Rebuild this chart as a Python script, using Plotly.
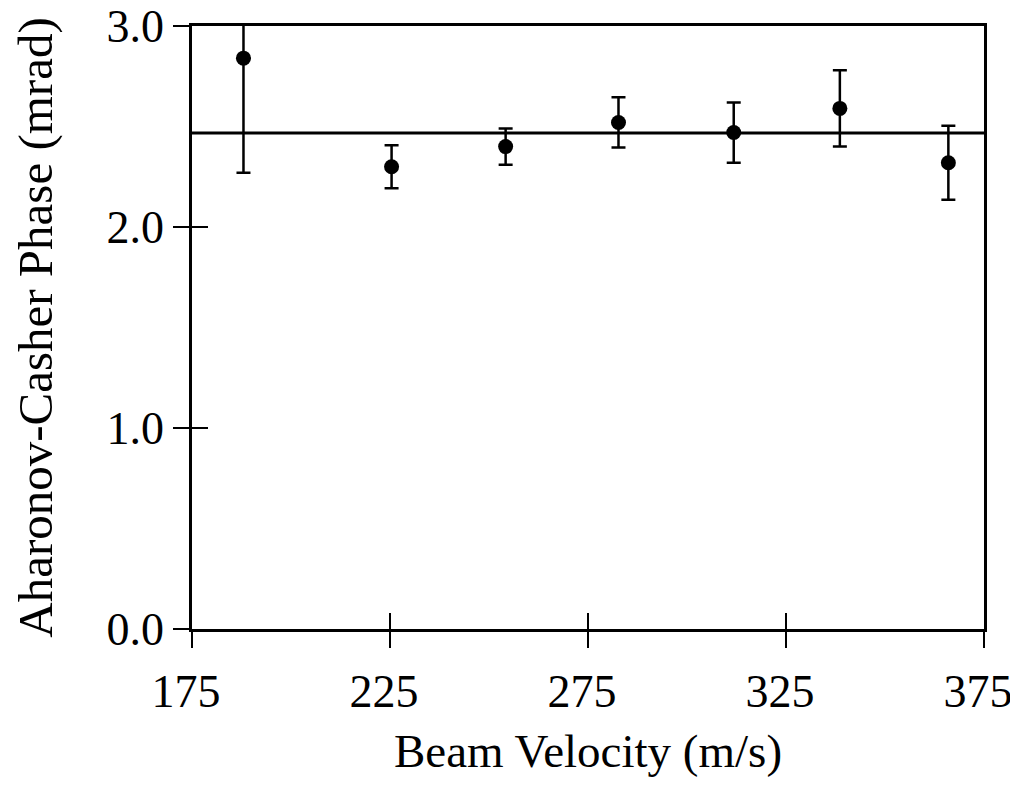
import plotly.graph_objects as go

# ---- data ----
velocity = [188.0, 225.4, 254.2, 282.7, 311.8, 338.6, 366.0]
phase = [2.84, 2.30, 2.40, 2.52, 2.47, 2.59, 2.32]
phase_err = [0.57, 0.107, 0.09, 0.125, 0.15, 0.19, 0.184]
mean_phase = 2.468

x_ticks = [175, 225, 275, 325, 375]
y_ticks = [0.0, 1.0, 2.0, 3.0]
y_tick_labels = ["0.0", "1.0", "2.0", "3.0"]
x_range = [175, 375]
y_range = [0, 3.0]
err_clip_top = 3.03  # top whisker of the first point is cut just above the frame

FONT = "Liberation Serif"
INK = "black"
FS = 46

fig = go.Figure()

# mean-value horizontal line
fig.add_trace(go.Scatter(
    x=x_range, y=[mean_phase, mean_phase], mode="lines",
    line=dict(color=INK, width=3), hoverinfo="skip", showlegend=False,
))

inside = [i for i in range(len(phase)) if phase[i] + phase_err[i] <= y_range[1]]
outside = [i for i in range(len(phase)) if phase[i] + phase_err[i] > y_range[1]]

fig.add_trace(go.Scatter(
    x=[velocity[i] for i in inside], y=[phase[i] for i in inside],
    mode="markers",
    marker=dict(color=INK, size=15, symbol="circle"),
    error_y=dict(type="data", array=[phase_err[i] for i in inside],
                 color=INK, thickness=2.5, width=7),
    showlegend=False, cliponaxis=False,
))

for i in outside:
    fig.add_trace(go.Scatter(
        x=[velocity[i], velocity[i]],
        y=[phase[i], min(phase[i] + phase_err[i], err_clip_top)],
        mode="lines", line=dict(color=INK, width=2.5),
        showlegend=False, cliponaxis=False, hoverinfo="skip",
    ))
    fig.add_trace(go.Scatter(
        x=[velocity[i]], y=[phase[i]], mode="markers",
        marker=dict(color=INK, size=15),
        error_y=dict(type="data", symmetric=False, array=[0],
                     arrayminus=[phase_err[i]], color=INK,
                     thickness=2.5, width=7),
        showlegend=False, cliponaxis=False,
    ))

axis_common = dict(
    showgrid=False, zeroline=False, linecolor=INK, linewidth=2.5,
    tickcolor=INK, tickwidth=2, ticklen=16, ticks="outside",
    tickfont=dict(family=FONT, size=FS, color=INK), automargin=False,
    ticklabeloverflow="allow",
)

fig.update_layout(
    width=1018, height=802,
    # the page body adds an 8px offset, so margins are set to land the frame
    # at the reference's pixel positions
    margin=dict(l=184, r=42, t=18, b=181),
    plot_bgcolor="white", paper_bgcolor="white",
    xaxis=dict(
        range=x_range, tickvals=x_ticks, ticktext=[str(t) for t in x_ticks],
        mirror=True, ticklabelstandoff=4, ticklabelshift=-6,
        title=dict(text="Beam Velocity (m/s)", font=dict(family=FONT, size=47, color=INK),
                   standoff=19),
        **axis_common,
    ),
    yaxis=dict(
        range=y_range, tickvals=y_ticks, ticktext=y_tick_labels,
        mirror=True, ticklabelstandoff=0,
        title=dict(text="Aharonov-Casher Phase (mrad)", font=dict(family=FONT, size=49, color=INK),
                   standoff=40),
        **axis_common,
    ),
    # duplicate axes drawing the inner halves of the crossing ticks
    xaxis2=dict(range=x_range, tickvals=x_ticks, overlaying="x", side="bottom",
                showticklabels=False, showgrid=False, zeroline=False, showline=False,
                ticks="inside", ticklen=16, tickwidth=2, tickcolor=INK, anchor="y2",
                automargin=False),
    yaxis2=dict(range=y_range, tickvals=y_ticks, overlaying="y", side="left",
                showticklabels=False, showgrid=False, zeroline=False, showline=False,
                ticks="inside", ticklen=16, tickwidth=2, tickcolor=INK, anchor="x2",
                automargin=False),
)

fig.add_trace(go.Scatter(x=[velocity[0]], y=[phase[0]], xaxis="x2", yaxis="y2",
                         mode="markers", marker=dict(opacity=0), showlegend=False,
                         hoverinfo="skip"))

fig.write_html("out.html")
